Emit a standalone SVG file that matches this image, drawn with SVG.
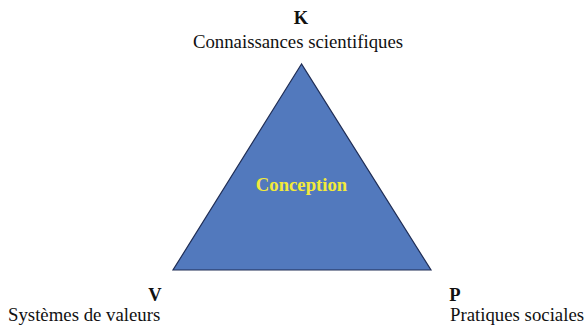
<svg xmlns="http://www.w3.org/2000/svg" width="585" height="327" viewBox="0 0 585 327">
<style>
.lbl{font-family:"Liberation Serif",serif;font-size:18.8px;fill:#111}
.key{font-family:"Liberation Serif",serif;font-size:18.5px;font-weight:bold;fill:#111}
.in{font-family:"Liberation Serif",serif;font-size:18.7px;font-weight:bold;fill:#f2ea3a}
</style>
<rect width="585" height="327" fill="#fff"/>
<g id="triangle">
<polygon points="301.5,64 173,270 431,270" fill="#5279bd" stroke="#1f2d55" stroke-width="1.2"/>
<text class="in" x="301.5" y="191" text-anchor="middle">Conception</text>
</g>
<g id="K">
<text class="key" x="301" y="24" text-anchor="middle">K</text>
<text class="lbl" x="298" y="48" text-anchor="middle">Connaissances scientifiques</text>
</g>
<g id="V">
<text class="key" x="155" y="301" text-anchor="middle">V</text>
<text class="lbl" x="8" y="321">Systèmes de valeurs</text>
</g>
<g id="P">
<text class="key" x="455" y="301" text-anchor="middle">P</text>
<text class="lbl" x="450" y="321">Pratiques sociales</text>
</g>
<g id="connectors"/>
</svg>
